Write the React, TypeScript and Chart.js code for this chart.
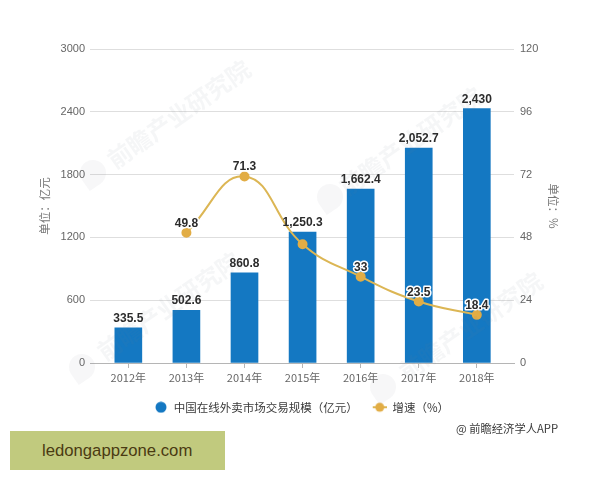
import React, { useEffect, useRef } from "react";
import { Chart, registerables } from "chart.js";

Chart.register(...registerables);

const categories = ["2012年", "2013年", "2014年", "2015年", "2016年", "2017年", "2018年"];
const marketSize = [335.5, 502.6, 860.8, 1250.3, 1662.4, 2052.7, 2430];
const growth: (number | null)[] = [null, 49.8, 71.3, 45.4, 33, 23.5, 18.4];
const growthLabels = ["", "49.8", "71.3", "", "33", "23.5", "18.4"];
const barName = "中国在线外卖市场交易规模（亿元）";
const lineName = "增速（%）";
const leftTitle = "单位：亿元";
const rightTitle = "单位：%";
const sourceText = "@ 前瞻经济学人APP";
const bannerText = "ledongappzone.com";
const watermarkText = "前瞻产业研究院";
const watermarks = [
  { left: 178, top: 113, logoLeft: 93, logoTop: 173 },
  { left: 410, top: 140, logoLeft: 330, logoTop: 197 },
  { left: 168, top: 305, logoLeft: 82, logoTop: 367 },
  { left: 470, top: 325, logoLeft: 383, logoTop: 387 },
];

const BAR = "#1478c2";
const LINE = "#dcb654";
const POINT = "#e2ad45";
const NUM_FONT = '"Liberation Sans", Arial, sans-serif';
const CJK_FONT = '"Noto Sans CJK SC", "Liberation Sans", sans-serif';

function legendIcon(kind: "bar" | "line"): HTMLCanvasElement {
  const c = document.createElement("canvas");
  c.width = 17;
  c.height = 12;
  const g = c.getContext("2d")!;
  if (kind === "line") {
    g.strokeStyle = LINE;
    g.lineWidth = 2;
    g.beginPath();
    g.moveTo(3, 6);
    g.lineTo(17, 6);
    g.stroke();
    g.fillStyle = POINT;
    g.beginPath();
    g.arc(10, 6, 4.5, 0, Math.PI * 2);
    g.fill();
  } else {
    g.fillStyle = BAR;
    g.beginPath();
    g.arc(10, 6, 5.5, 0, Math.PI * 2);
    g.fill();
  }
  return c;
}

const valueLabels = {
  id: "valueLabels",
  afterDatasetsDraw(chart: any) {
    const { ctx } = chart;
    ctx.save();
    ctx.font = `bold 12px ${NUM_FONT}`;
    ctx.textAlign = "center";
    ctx.textBaseline = "alphabetic";
    ctx.lineJoin = "round";
    chart.getDatasetMeta(0).data.forEach((el: any, i: number) => {
      ctx.fillStyle = "#2b2b2b";
      ctx.fillText(marketSize[i].toLocaleString("en-US"), el.x, el.y - 6);
    });
    chart.getDatasetMeta(1).data.forEach((el: any, i: number) => {
      if (!growthLabels[i]) return;
      ctx.strokeStyle = "#ffffff";
      ctx.lineWidth = 3;
      ctx.strokeText(growthLabels[i], el.x, el.y - 6);
      ctx.fillStyle = "#2b2b2b";
      ctx.fillText(growthLabels[i], el.x, el.y - 6);
    });
    ctx.restore();
  },
};

export default function App() {
  const ref = useRef<HTMLCanvasElement>(null);

  useEffect(() => {
    const icons = [legendIcon("bar"), legendIcon("line")];
    const chart = new Chart(ref.current!, {
      type: "bar",
      data: {
        datasets: [
          {
            type: "bar",
            label: barName,
            data: marketSize.map((y, x) => ({ x, y })),
            backgroundColor: BAR,
            barThickness: 27,
            yAxisID: "y",
            order: 2,
          },
          {
            type: "line",
            label: lineName,
            data: growth.map((y, x) => ({ x, y })),
            borderColor: LINE,
            borderWidth: 2,
            backgroundColor: POINT,
            pointBackgroundColor: POINT,
            pointBorderColor: POINT,
            pointRadius: 4,
            tension: 0.45,
            yAxisID: "y1",
            order: 1,
          },
        ],
      } as any,
      options: {
        responsive: false,
        animation: false,
        layout: { padding: { top: 49, left: 0, right: 0, bottom: 57 } },
        plugins: {
          tooltip: { enabled: false },
          legend: {
            position: "bottom",
            labels: {
              usePointStyle: true,
              boxWidth: 17,
              boxHeight: 11,
              pointStyleWidth: 17,
              padding: 12,
              color: "#3a3a3a",
              font: { family: CJK_FONT, size: 11.5 },
              generateLabels(c: any) {
                return Chart.defaults.plugins.legend.labels
                  .generateLabels(c)
                  .sort((a: any, b: any) => a.datasetIndex - b.datasetIndex)
                  .map((it: any) => ({ ...it, pointStyle: icons[it.datasetIndex], fontColor: "#3a3a3a" }));
              },
            },
          },
        },
        scales: {
          x: {
            type: "linear",
            offset: false,
            min: -0.66,
            max: 6.64,
            afterBuildTicks(axis: any) {
              axis.ticks = categories.map((_, i) => ({ value: i }));
            },
            afterFit(axis: any) {
              axis.height = 26.5;
            },
            grid: { offset: false, drawOnChartArea: false, drawTicks: true, tickLength: 5, tickColor: "#b5b5b5" },
            border: { color: "#b5b5b5", width: 1 },
            ticks: {
              autoSkip: false,
              maxRotation: 0,
              padding: 3,
              color: "#666666",
              font: { family: CJK_FONT, size: 11 },
              callback: (v: any) => categories[v],
            },
          },
          y: {
            position: "left",
            min: 0,
            max: 3000,
            afterBuildTicks(axis: any) {
              axis.ticks = [0, 600, 1200, 1800, 2400, 3000].map((value) => ({ value }));
            },
            afterFit(axis: any) {
              axis.width = 90;
            },
            grid: { color: "#dedede", drawTicks: false },
            border: { display: false },
            ticks: {
              padding: 5,
              color: "#666666",
              font: { family: NUM_FONT, size: 11 },
              callback: (v: any) => String(v),
            },
            title: {
              display: true,
              text: leftTitle,
              color: "#777777",
              padding: { top: 38, bottom: 0 },
              font: { family: CJK_FONT, size: 11.5 },
            },
          },
          y1: {
            position: "right",
            min: 0,
            max: 120,
            afterBuildTicks(axis: any) {
              axis.ticks = [0, 24, 48, 72, 96, 120].map((value) => ({ value }));
            },
            afterFit(axis: any) {
              axis.width = 86;
            },
            grid: { drawOnChartArea: false, drawTicks: false },
            border: { display: false },
            ticks: {
              padding: 6,
              color: "#666666",
              font: { family: NUM_FONT, size: 11 },
              callback: (v: any) => String(v),
            },
            title: {
              display: true,
              text: rightTitle,
              color: "#777777",
              padding: { top: 40, bottom: 0 },
              font: { family: CJK_FONT, size: 11.5 },
            },
          },
        },
      } as any,
      plugins: [valueLabels],
    });
    return () => chart.destroy();
  }, []);

  return (
    <div style={{ position: "absolute", left: 0, top: 0, width: 600, height: 480, overflow: "hidden", background: "#fff" }}>
      <canvas ref={ref} width={600} height={480} style={{ display: "block" }} />
      {watermarks.map((w, i) => (
        <React.Fragment key={i}>
          <div
            style={{
              position: "absolute",
              left: w.left,
              top: w.top,
              transform: "translate(-50%,-50%) rotate(-35deg)",
              font: `bold 24px ${CJK_FONT}`,
              color: "rgba(120,125,135,0.07)",
              whiteSpace: "nowrap",
              pointerEvents: "none",
            }}
          >
            {watermarkText}
          </div>
          <div
            style={{
              position: "absolute",
              left: w.logoLeft - 13,
              top: w.logoTop - 13,
              width: 26,
              height: 26,
              borderRadius: "50% 50% 50% 0",
              transform: "rotate(-35deg)",
              background: "rgba(120,125,135,0.06)",
              pointerEvents: "none",
            }}
          />
        </React.Fragment>
      ))}
      <div
        style={{
          position: "absolute",
          left: 456,
          top: 419,
          font: `11.3px ${CJK_FONT}`,
          lineHeight: "18px",
          color: "#3a3a3a",
          whiteSpace: "nowrap",
        }}
      >
        {sourceText}
      </div>
      <div
        style={{
          position: "absolute",
          left: 10,
          top: 431,
          width: 215,
          height: 39,
          background: "#c1ca7e",
          color: "#4a3a12",
          font: `16.7px "Liberation Sans", Arial, sans-serif`,
          lineHeight: "39px",
          paddingLeft: 32,
          boxSizing: "border-box",
        }}
      >
        {bannerText}
      </div>
    </div>
  );
}
